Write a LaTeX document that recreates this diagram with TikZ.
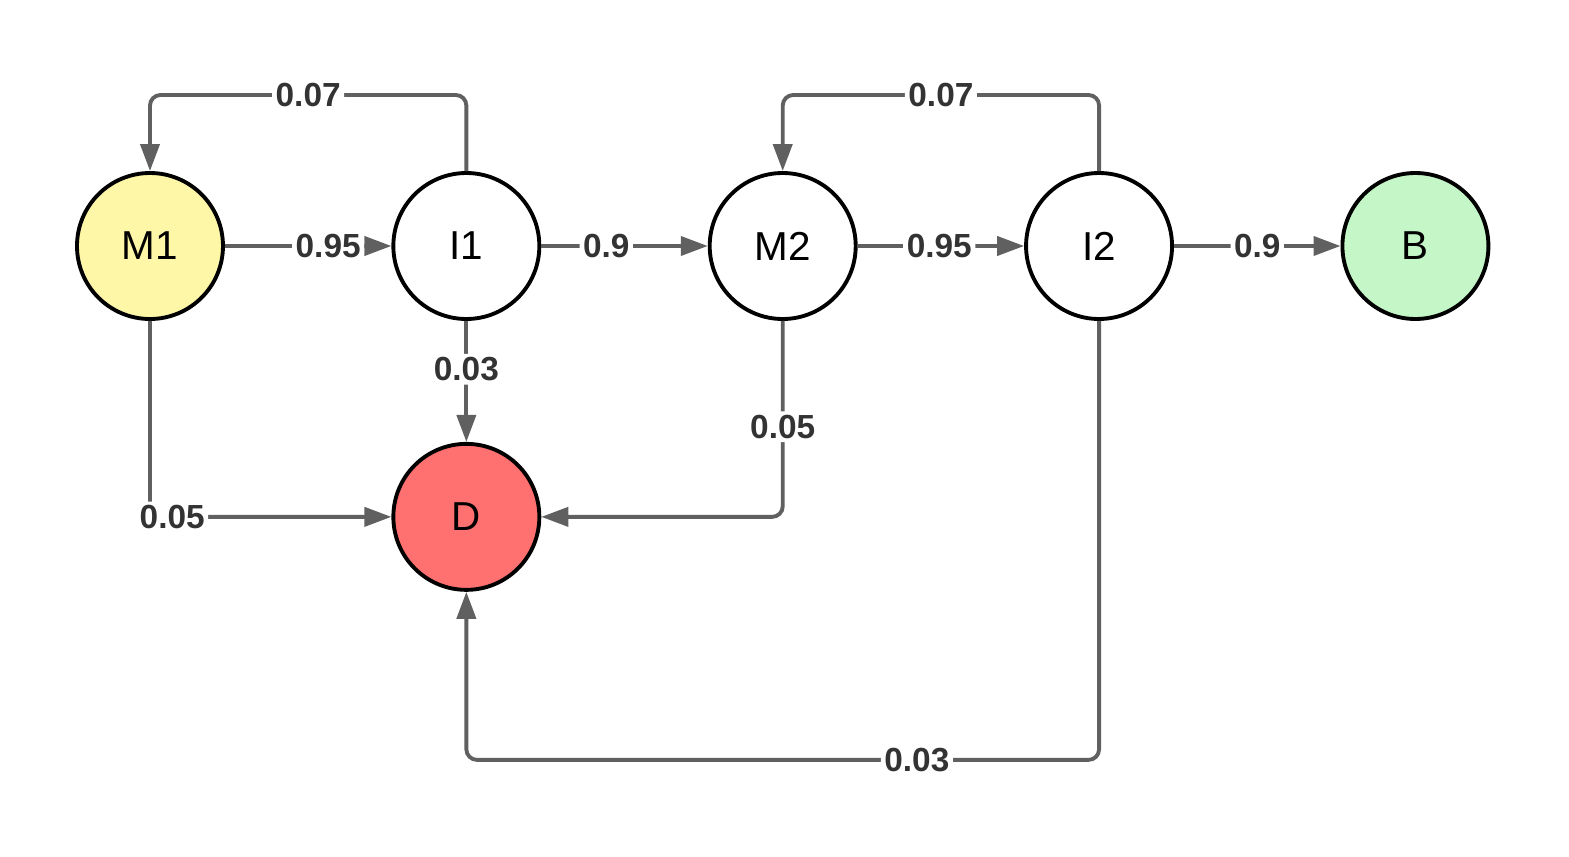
\documentclass[tikz,border=0pt]{standalone}
\usepackage{fontspec}
\setmainfont{Liberation Sans}
\usetikzlibrary{arrows.meta,calc}
\definecolor{edgegray}{HTML}{606060}
\definecolor{labelgray}{HTML}{333333}
\definecolor{mstart}{HTML}{FFF7A8}
\definecolor{absorb}{HTML}{C4F6C8}
\definecolor{dead}{HTML}{FF7070}

\begin{document}
\begin{tikzpicture} [
    state/.style    = { circle, draw=black, line width=1.1pt, fill=white,
                        minimum size=1.46cm, inner sep=0pt,
                        font=\fontsize{11.5}{14}\selectfont },
    line/.style     = { draw=edgegray, line width=1.1pt, rounded corners=3pt,
                        -{Triangle[length=0.27cm, width=0.19cm]} },
    prob/.style     = { fill=white, inner sep=1pt, text=labelgray,
                        font=\bfseries\fontsize{9.5}{11}\selectfont },
  ]


  % Define nodes in matrix
  \matrix [column sep=1.665cm, row sep=1.21cm] {
\node[state, fill=mstart](M1){M1}; & \node[state](I1){I1}; & \node[state](M2){M2}; & \node[state](I2){I2}; & \node[state, fill=absorb](B){B}; \\
& \node[state, fill=dead](D){D}; & & & \\
  };

  \useasboundingbox ($(M1)+(-1.50,2.46)$) rectangle ++(15.69,-8.57);

  % connect the nodes
		\path [line] (M1) -- node[prob, pos=0.62]{0.95} (I1);
		\path [line] (I1) -- node[prob, pos=0.39]{0.9} (M2);
		\path [line] (M2) -- node[prob, pos=0.49]{0.95} (I2);
		\path [line] (I2) -- node[prob, pos=0.5]{0.9} (B);
		\path [line] (I1) |- node[prob, pos=0.75]{0.07} ($(M1)+(0,1.51)$) -- (M1);
		\path [line] (I2) |- node[prob, pos=0.75]{0.07} ($(M2)+(0,1.51)$) -- (M2);
		\path [line] (I1) -- node[prob, pos=0.4]{0.03} (D);
		\path [line] (M1) |- node[prob, pos=0.546]{0.05} (D);
		\path [line] (M2) |- node[prob, pos=0.27]{0.05} (D);
		\path [line] (I2) |- node[prob, pos=0.644]{0.03} ($(D)+(0,-2.43)$) -- (D);
\end{tikzpicture}
\end{document}
